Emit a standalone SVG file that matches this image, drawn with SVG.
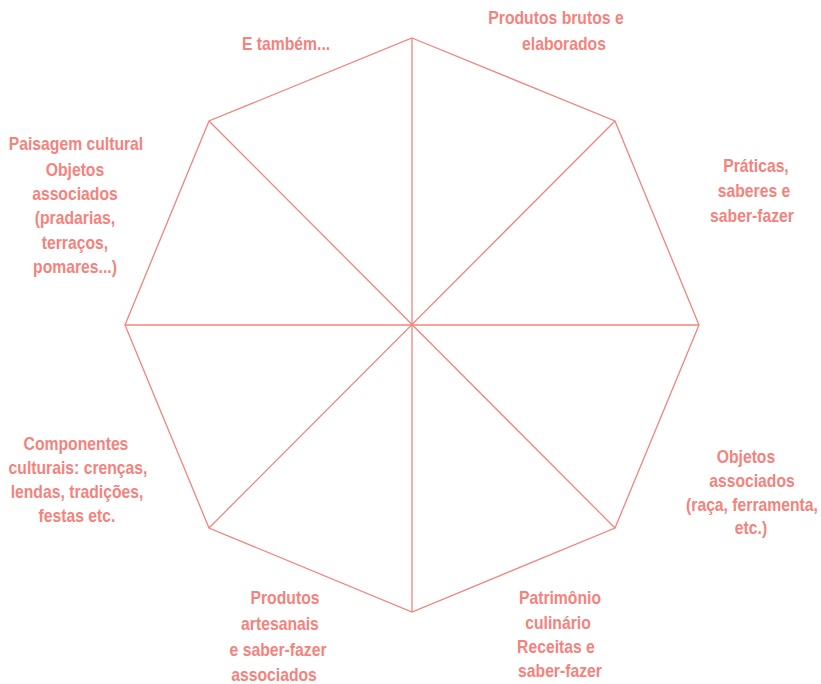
<svg xmlns="http://www.w3.org/2000/svg" width="821" height="684" viewBox="0 0 821 684">
<style>
text{font-family:"Liberation Sans",Arial,sans-serif;font-weight:bold;font-size:18.5px;fill:#F4837D;text-anchor:middle}
.ln{stroke:#F4837D;stroke-width:1.3;fill:none}
</style>
<rect width="821" height="684" fill="#ffffff"/>
<g id="connectors">
<polygon class="ln" points="412,38 615,121 699,325 615,528 412,612 209,528 125,325 209,121"/>
<line class="ln" x1="412" y1="38" x2="412" y2="612"/>
<line class="ln" x1="125" y1="325" x2="699" y2="325"/>
<line class="ln" x1="209" y1="121" x2="615" y2="528"/>
<line class="ln" x1="615" y1="121" x2="209" y2="528"/>
</g>
<g id="n-produtos-brutos" transform="scale(0.85,1)"><text x="654.1" y="24">Produtos brutos e</text><text x="663.5" y="50">elaborados</text></g>
<g id="n-e-tambem" transform="scale(0.85,1)"><text x="336.5" y="50">E também...</text></g>
<g id="n-paisagem" transform="scale(0.85,1)"><text x="89.4" y="150">Paisagem cultural</text><text x="88.2" y="176">Objetos</text><text x="88.2" y="200">associados</text><text x="88.2" y="224">(pradarias,</text><text x="88.2" y="249">terraços,</text><text x="88.2" y="273">pomares...)</text></g>
<g id="n-praticas" transform="scale(0.85,1)"><text x="889.4" y="172">Práticas,</text><text x="887.1" y="197">saberes e</text><text x="884.7" y="222">saber-fazer</text></g>
<g id="n-objetos" transform="scale(0.85,1)"><text x="877.6" y="463">Objetos</text><text x="884.7" y="487">associados</text><text x="884.7" y="511">(raça, ferramenta,</text><text x="883.5" y="534">etc.)</text></g>
<g id="n-patrimonio" transform="scale(0.85,1)"><text x="658.8" y="604">Patrimônio</text><text x="656.5" y="629">culinário</text><text x="654.1" y="653">Receitas e</text><text x="658.8" y="677">saber-fazer</text></g>
<g id="n-produtos-artesanais" transform="scale(0.85,1)"><text x="335.3" y="604">Produtos</text><text x="329.4" y="630">artesanais</text><text x="327.1" y="656">e saber-fazer</text><text x="322.4" y="681">associados</text></g>
<g id="n-componentes" transform="scale(0.85,1)"><text x="89.4" y="450">Componentes</text><text x="91.8" y="474">culturais: crenças,</text><text x="90.6" y="498">lendas, tradições,</text><text x="90.6" y="522">festas etc.</text></g>
</svg>
